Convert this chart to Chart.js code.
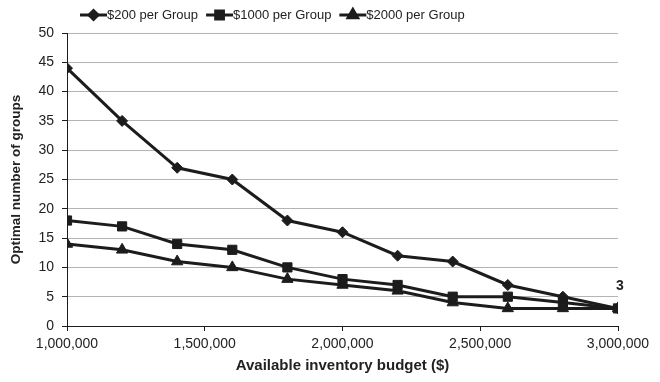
<!DOCTYPE html>
<html>
<head>
<meta charset="utf-8">
<script src="https://cdn.jsdelivr.net/npm/chart.js@4"></script>
<style>
  body { margin: 0; background: #fff; }
  #wrap { width: 660px; height: 382px; }
</style>
</head>
<body>
<div id="wrap"><canvas id="chart-groups" width="660" height="382"></canvas></div>
<script>
// budget steps on the x axis and optimal group counts per fixed cost
const budgets = [1000000, 1200000, 1400000, 1600000, 1800000, 2000000, 2200000, 2400000, 2600000, 2800000, 3000000];
const groups200 = [44, 35, 27, 25, 18, 16, 12, 11, 7, 5, 3];
const groups1000 = [18, 17, 14, 13, 10, 8, 7, 5, 5, 4, 3];
const groups2000 = [14, 13, 11, 10, 8, 7, 6, 4, 3, 3, 3];
const seriesNames = ['$200 per Group', '$1000 per Group', '$2000 per Group'];
const markers = ['rectRot', 'rect', 'triangle'];
const markerSizes = [5.5, 6.5, 6.5];

const ink = '#1c1c1c';
const fontFamily = '"Liberation Sans", Arial, sans-serif';

function toPoints(values) {
  return budgets.map((b, i) => ({ x: b, y: values[i] }));
}

const datasets = [groups200, groups1000, groups2000].map((vals, i) => ({
  label: seriesNames[i],
  data: toPoints(vals),
  borderColor: ink,
  backgroundColor: ink,
  borderWidth: 3,
  pointStyle: markers[i],
  pointRadius: markerSizes[i],
  pointBorderWidth: 1,
  pointBackgroundColor: ink,
  pointBorderColor: ink,
  tension: 0
}));

// legend row: short line with marker, then the series name
const lineLegend = {
  id: 'lineLegend',
  afterDraw(chart) {
    const ctx = chart.ctx;
    ctx.save();
    ctx.font = '13px ' + fontFamily;
    ctx.textBaseline = 'middle';
    let x = 80;
    const y = 15;
    seriesNames.forEach((name, i) => {
      ctx.strokeStyle = ink;
      ctx.lineWidth = 3;
      ctx.beginPath();
      ctx.moveTo(x, y);
      ctx.lineTo(x + 27, y);
      ctx.stroke();
      ctx.fillStyle = ink;
      Chart.helpers.drawPoint(ctx, {
        pointStyle: markers[i], radius: markerSizes[i] - 1, rotation: 0, borderWidth: 1
      }, x + 13.5, y);
      ctx.fill();
      ctx.fillStyle = '#222';
      ctx.fillText(name, x + 27, y);
      x += 27 + ctx.measureText(name).width + 8;
    });
    ctx.restore();
  }
};

// value note above the last point of the $200 series
const endLabel = {
  id: 'endLabel',
  afterDatasetsDraw(chart) {
    const meta = chart.getDatasetMeta(0);
    const last = meta.data[meta.data.length - 1];
    const ctx = chart.ctx;
    ctx.save();
    ctx.font = 'bold 14px ' + fontFamily;
    ctx.fillStyle = '#222';
    ctx.textAlign = 'center';
    ctx.textBaseline = 'middle';
    ctx.fillText(String(groups200[groups200.length - 1]), last.x + 2, last.y - 22);
    ctx.restore();
  }
};

const ctx = document.getElementById('chart-groups').getContext('2d');
const myChart = new Chart(ctx, {
  type: 'line',
  data: { datasets: datasets },
  plugins: [lineLegend, endLabel],
  options: {
    responsive: false,
    animation: false,
    layout: { padding: { top: 33, right: 42, bottom: 0, left: 0 } },
    plugins: {
      legend: { display: false },
      tooltip: { enabled: false }
    },
    scales: {
      x: {
        type: 'linear',
        min: 1000000,
        max: 3000000,
        afterFit: (scale) => { scale.height = 56; },
        ticks: {
          stepSize: 500000,
          padding: 5,
          color: '#222',
          font: { family: fontFamily, size: 14 },
          maxRotation: 0,
          callback: (v) => v.toLocaleString('en-US')
        },
        grid: {
          drawOnChartArea: false,
          tickLength: 5,
          tickColor: ink
        },
        border: { color: ink, width: 1 },
        title: {
          display: true,
          text: 'Available inventory budget ($)',
          color: '#222',
          font: { family: fontFamily, size: 15, weight: 'bold' },
          padding: { top: 4, bottom: 7 }
        }
      },
      y: {
        min: 0,
        max: 50,
        afterFit: (scale) => { scale.width = 67; },
        ticks: {
          stepSize: 5,
          padding: 8,
          color: '#222',
          font: { family: fontFamily, size: 14 }
        },
        grid: {
          color: '#b4b4b4',
          lineWidth: 1,
          tickLength: 5,
          tickColor: ink
        },
        border: { color: ink, width: 1 },
        title: {
          display: true,
          text: 'Optimal number of groups',
          color: '#222',
          font: { family: fontFamily, size: 13.5, weight: 'bold' },
          padding: { top: 8, bottom: 4 }
        }
      }
    }
  }
});
</script>
</body>
</html>
